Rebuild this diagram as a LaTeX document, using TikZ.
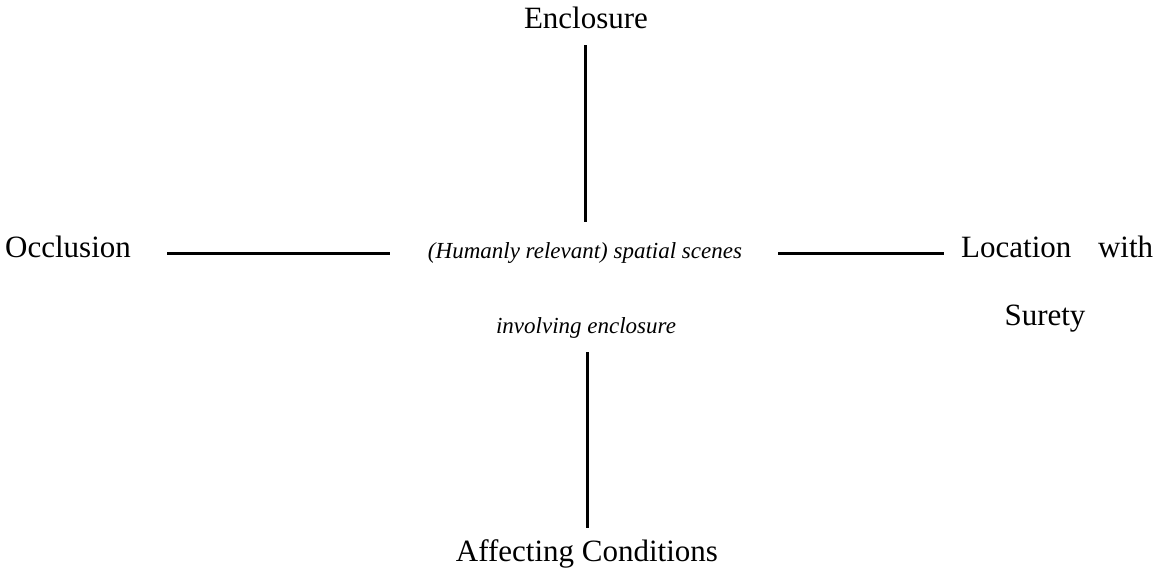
\documentclass[tikz,border=0pt]{standalone}
\usepackage{fontspec}
\setmainfont{Liberation Serif}
\usetikzlibrary{calc}
\begin{document}
\begin{tikzpicture}[x=1pt,y=1pt,
  label/.style={inner sep=0pt,anchor=base,font=\fontsize{31}{37}\selectfont},
  scene/.style={inner sep=0pt,anchor=base,font=\fontsize{23}{28}\selectfont\itshape},
  conn/.style={line width=3pt}]
\useasboundingbox (0,0) rectangle (1154,-571);
% centre text
\node[scene] (scene) at (585,-258) {(Humanly relevant) spatial scenes};
\node[scene] (scene2) at (586,-333) {involving enclosure};
% four surrounding aspects
\node[label] (enc) at (586,-28) {Enclosure};
\node[label,anchor=base west] (occ) at (5,-257) {Occlusion};
\node[label,anchor=base west] (loc) at (961,-257) {\makebox[192pt][s]{Location with}};
\node[label] (sur) at (1045,-325) {Surety};
\node[label] (aff) at (587,-561) {Affecting Conditions};
% connectors
\draw[conn] ($(enc.base)+(-1,-17)$) -- ($(scene.base)+(0,36)$);
\draw[conn] ($(occ.base east)+(36,4)$) -- ($(scene.base west)+(-38,5)$);
\draw[conn] ($(scene.base east)+(36,5)$) -- ($(loc.base west)+(-17,4)$);
\draw[conn] ($(scene2.base)+(1,-19)$) -- ($(aff.base)+(0,33)$);
\end{tikzpicture}
\end{document}
